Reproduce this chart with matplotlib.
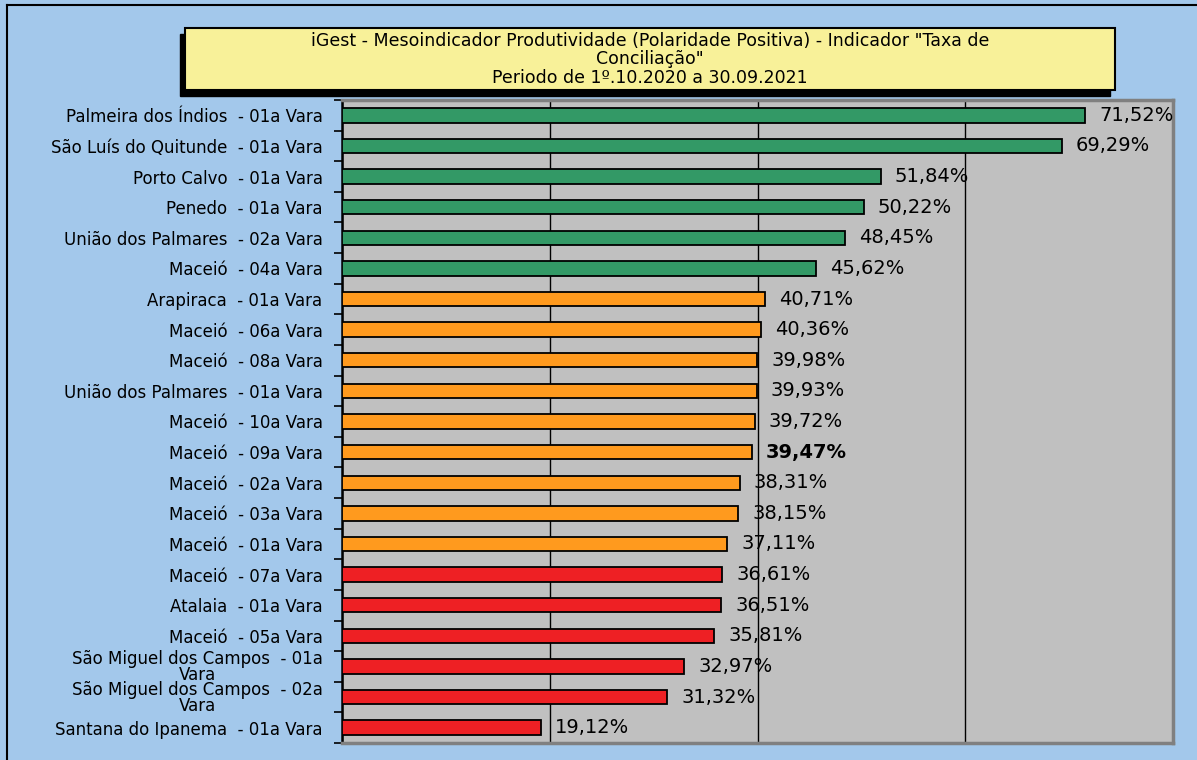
import numpy as np
import matplotlib.pyplot as plt
from matplotlib.patches import Rectangle
from matplotlib.lines import Line2D

plt.rcParams['font.family'] = ['DejaVu Sans']

varas = [
    "Palmeira dos Índios  - 01a Vara",
    "São Luís do Quitunde  - 01a Vara",
    "Porto Calvo  - 01a Vara",
    "Penedo  - 01a Vara",
    "União dos Palmares  - 02a Vara",
    "Maceió  - 04a Vara",
    "Arapiraca  - 01a Vara",
    "Maceió  - 06a Vara",
    "Maceió  - 08a Vara",
    "União dos Palmares  - 01a Vara",
    "Maceió  - 10a Vara",
    "Maceió  - 09a Vara",
    "Maceió  - 02a Vara",
    "Maceió  - 03a Vara",
    "Maceió  - 01a Vara",
    "Maceió  - 07a Vara",
    "Atalaia  - 01a Vara",
    "Maceió  - 05a Vara",
    "São Miguel dos Campos  - 01a\nVara",
    "São Miguel dos Campos  - 02a\nVara",
    "Santana do Ipanema  - 01a Vara",
]
taxa = [71.52, 69.29, 51.84, 50.22, 48.45, 45.62, 40.71, 40.36, 39.98, 39.93,
        39.72, 39.47, 38.31, 38.15, 37.11, 36.61, 36.51, 35.81, 32.97, 31.32, 19.12]
faixa = ['verde'] * 6 + ['laranja'] * 9 + ['vermelho'] * 6
cores = {'verde': '#339966', 'laranja': '#ff9a1e', 'vermelho': '#ee2024'}

titulo = ['iGest - Mesoindicador Produtividade (Polaridade Positiva) - Indicador "Taxa de',
          'Conciliação"',
          'Periodo de 1º.10.2020 a 30.09.2021']

fig = plt.figure(figsize=(11.97, 7.60), dpi=100)
fig.patch.set_facecolor('#a3c8eb')

# moldura (esquerda e topo)
fig.add_artist(Line2D([0.006, 0.006], [0, 0.994], color='black', lw=1.5))
fig.add_artist(Line2D([0.006, 1.0], [0.994, 0.994], color='black', lw=1.5))

ax = fig.add_axes([0.2857, 0.0224, 0.6943, 0.846])
ax.set_facecolor('#c0c0c0')

y = np.arange(len(varas))
ax.barh(y, taxa, height=0.47, color=[cores[f] for f in faixa],
        edgecolor='black', linewidth=1.3, zorder=3)

for i, v in enumerate(taxa):
    txt = f"{v:.2f}%".replace('.', ',')
    ax.text(v + 1.35, i, txt, va='center', ha='left', fontsize=14,
            fontweight='bold' if i == 11 else 'normal', zorder=4)

ax.set_xlim(0, 80)
ax.set_ylim(len(varas) - 0.5, -0.5)
ax.set_xticks([0, 20, 40, 60, 80])
ax.xaxis.grid(True, color='black', lw=1)
ax.set_axisbelow(True)
ax.tick_params(axis='x', bottom=False, labelbottom=False)

ax.set_yticks(y)
ax.set_yticklabels(varas, fontsize=12, multialignment='center', linespacing=0.85)
ax.set_yticks(np.arange(-0.5, len(varas)), minor=True)
ax.tick_params(axis='y', which='major', length=0, pad=14)
ax.tick_params(axis='y', which='minor', length=6, width=1.2, direction='out', color='black')

for s in ['top', 'right', 'bottom']:
    ax.spines[s].set_color('#808080')
    ax.spines[s].set_linewidth(2.5)
ax.spines['left'].set_color('black')
ax.spines['left'].set_linewidth(1.8)

# caixa do título com sombra
x0, y0, w, h = 0.1546, 0.882, 0.777, 0.081
fig.add_artist(Rectangle((x0 - 0.004, y0 - 0.008), w, h, transform=fig.transFigure,
                         facecolor='black', edgecolor='black', zorder=5))
fig.add_artist(Rectangle((x0, y0), w, h, transform=fig.transFigure,
                         facecolor='#f8f199', edgecolor='black', lw=1.5, zorder=6))
for linha, yt in zip(titulo, [0.9465, 0.922, 0.8975]):
    fig.text(x0 + w / 2, yt, linha, ha='center', va='center', fontsize=12.5, zorder=7)

fig.savefig('out.png', dpi=100, facecolor=fig.get_facecolor())
